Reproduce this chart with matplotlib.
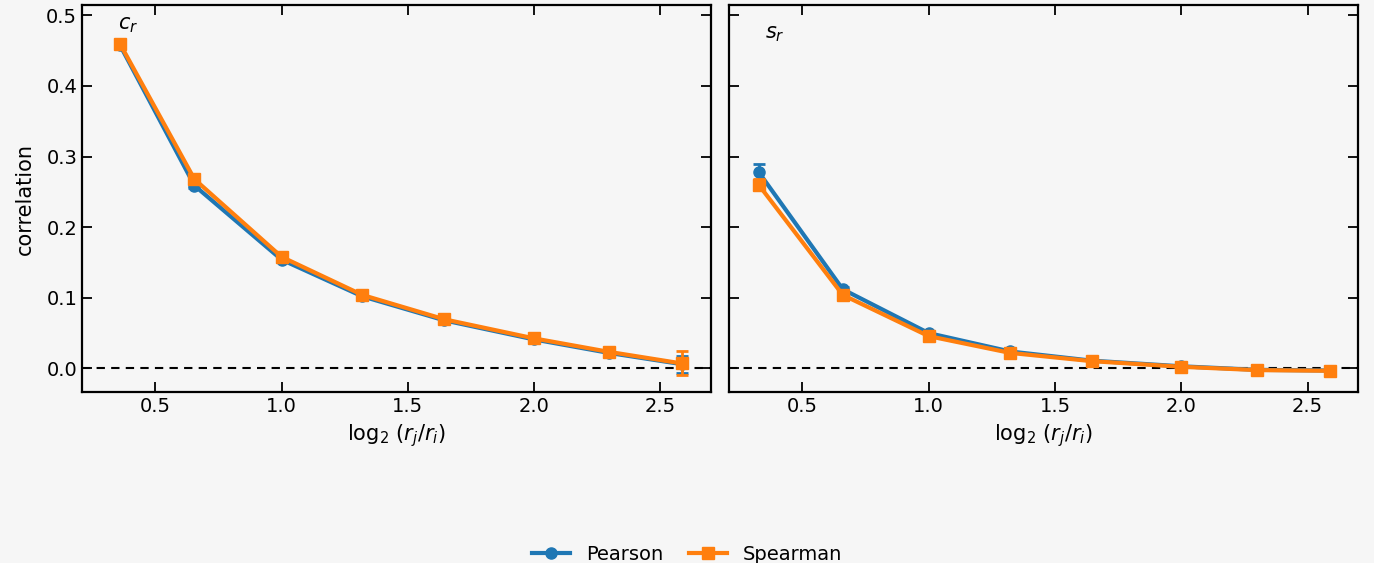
import matplotlib
matplotlib.use("Agg")
import matplotlib.pyplot as plt
from matplotlib.lines import Line2D

# x positions (log2 of radius ratio)
x_c = [0.36, 0.655, 1.0, 1.32, 1.645, 2.0, 2.295, 2.585]
x_s = [0.327, 0.66, 1.0, 1.322, 1.645, 2.0, 2.30, 2.59]

# c_r panel
c_pearson = [0.458, 0.259, 0.154, 0.102, 0.068, 0.041, 0.022, 0.006]
c_pearson_err = [0.003, 0.004, 0.003, 0.002, 0.002, 0.002, 0.004, 0.012]
c_spearman = [0.460, 0.268, 0.158, 0.104, 0.0695, 0.0425, 0.0235, 0.007]
c_spearman_err = [0.003, 0.004, 0.003, 0.002, 0.002, 0.002, 0.006, 0.017]

# s_r panel
s_pearson = [0.278, 0.112, 0.050, 0.024, 0.011, 0.003, -0.002, -0.003]
s_pearson_err = [0.011, 0.004, 0.002, 0.002, 0.001, 0.001, 0.001, 0.002]
s_spearman = [0.260, 0.104, 0.0457, 0.022, 0.0103, 0.0023, -0.0024, -0.0034]
s_spearman_err = [0.008, 0.004, 0.002, 0.002, 0.001, 0.001, 0.001, 0.002]

bg = '#f6f6f6'
blue = '#1f77b4'
orange = '#ff7f0e'

plt.rcParams['font.family'] = ['DejaVu Sans']
plt.rcParams['mathtext.fontset'] = 'dejavusans'

fig, axes = plt.subplots(1, 2, figsize=(13.74, 5.63), dpi=100, sharex=True, sharey=True)
fig.patch.set_facecolor(bg)
fig.subplots_adjust(left=0.0597, right=0.9884, top=0.991, bottom=0.303, wspace=0.029)

panels = [
    (x_c, c_pearson, c_pearson_err, c_spearman, c_spearman_err, '$c_r$', (0.057, 0.948)),
    (x_s, s_pearson, s_pearson_err, s_spearman, s_spearman_err, '$s_r$', (0.057, 0.925)),
]

for ax, (xs, p, pe, s, se, name, pos) in zip(axes, panels):
    ax.set_facecolor(bg)
    ax.axhline(0, color='black', ls='--', lw=1.5, dashes=(4, 3), zorder=1)
    ax.errorbar(xs, p, yerr=pe, color=blue, marker='o', ms=8, lw=3,
                capsize=4, elinewidth=2, capthick=2, zorder=2)
    ax.errorbar(xs, s, yerr=se, color=orange, marker='s', ms=8, lw=3,
                capsize=4, elinewidth=2, capthick=2, zorder=3)
    ax.text(pos[0], pos[1], name, transform=ax.transAxes, fontsize=15, va='center')
    ax.tick_params(direction='in', top=True, right=True, length=7, width=1.3, labelsize=14)
    for sp in ax.spines.values():
        sp.set_linewidth(1.6)
    ax.set_xlabel(r'$\log_2\,(r_j/r_i)$', fontsize=15)

axes[0].set_ylabel('correlation', fontsize=15, labelpad=8)
axes[0].set_xlim(0.21, 2.70)
axes[0].set_ylim(-0.034, 0.5146)
axes[0].set_xticks([0.5, 1.0, 1.5, 2.0, 2.5])
axes[0].set_yticks([0.0, 0.1, 0.2, 0.3, 0.4, 0.5])

handles = [Line2D([], [], color=blue, marker='o', ms=8, lw=3),
           Line2D([], [], color=orange, marker='s', ms=8, lw=3)]
fig.legend(handles, ['Pearson', 'Spearman'], loc='lower center', ncol=2, frameon=False,
           fontsize=14, bbox_to_anchor=(0.5, -0.032), handlelength=2.0, columnspacing=1.3)

fig.savefig('out.png', dpi=100, facecolor=bg)
